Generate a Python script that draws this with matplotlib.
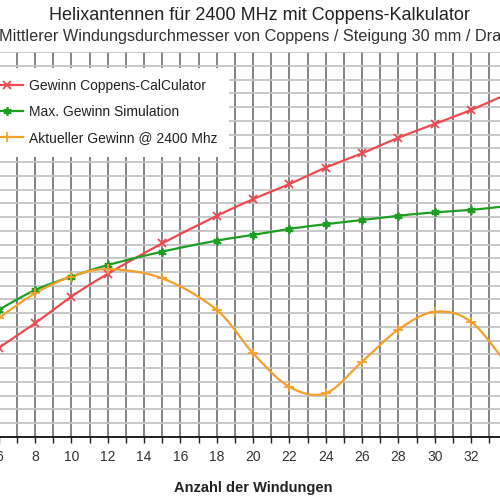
import matplotlib
matplotlib.use("Agg")
import matplotlib.pyplot as plt
import numpy as np
from matplotlib.lines import Line2D

# Anzahl der Windungen (Messpunkte)
windungen = [6, 8, 10, 12, 15, 18, 20, 22, 24, 26, 28, 30, 32, 34]
# Gewinn in dBi
gewinn_coppens = [8.23, 9.13, 10.10, 10.93, 12.04, 13.04, 13.65, 14.20,
                  14.80, 15.32, 15.89, 16.39, 16.90, 17.48]
gewinn_sim_max = [9.62, 10.34, 10.83, 11.25, 11.74, 12.14, 12.35, 12.57,
                  12.74, 12.89, 13.05, 13.17, 13.26, 13.40]
gewinn_2400 = [9.32, 10.22, 10.83, 11.10, 10.77, 9.62, 8.04, 6.82,
               6.58, 7.73, 8.90, 9.55, 9.19, 7.61]

x_ticks = list(range(6, 33, 2))


def smooth(xs, ys, n=30):
    # Bezier-Glaettung wie bei Excel-Liniendiagrammen
    p = np.column_stack([xs, ys]).astype(float)
    out = []
    for i in range(len(p) - 1):
        p0 = p[i - 1] if i > 0 else p[i]
        p1, p2 = p[i], p[i + 1]
        p3 = p[i + 2] if i + 2 < len(p) else p[i + 1]
        c1 = p1 + (p2 - p0) / 6
        c2 = p2 - (p3 - p1) / 6
        t = np.linspace(0, 1, n)[:, None]
        seg = ((1 - t) ** 3 * p1 + 3 * (1 - t) ** 2 * t * c1
               + 3 * (1 - t) * t ** 2 * c2 + t ** 3 * p2)
        out.append(seg if i == 0 else seg[1:])
    out = np.vstack(out)
    return out[:, 0], out[:, 1]


plt.rcParams['font.family'] = ['Liberation Sans', 'DejaVu Sans']

fig = plt.figure(figsize=(5, 5), dpi=100)
ax = fig.add_axes([-0.039, 0.1266, 1.090, 0.7688])

series = [
    (gewinn_coppens, "#ee4a4f", "x", 5.5, "Gewinn Coppens-CalCulator"),
    (gewinn_sim_max, "#1f9e24", (6, 2, 0), 6, "Max. Gewinn Simulation"),
    (gewinn_2400, "#f5a02c", "+", 7, "Aktueller Gewinn @ 2400 Mhz"),
]
handles = []
for ys, col, mk, ms, lab in series:
    sx, sy = smooth(windungen, ys)
    ax.plot(sx, sy, color=col, lw=1.6, zorder=3)
    ax.plot(windungen, ys, ls="none", marker=mk, ms=ms, mew=1.3,
            color=col, zorder=4)
    handles.append(Line2D([], [], color=col, lw=1.6, marker=mk, ms=ms,
                          mew=1.3, label=lab))

ax.set_xlim(5, 35)
ax.set_ylim(5, 19)
ax.set_xticks(x_ticks)
ax.set_xticks(range(5, 36), minor=True)
ax.set_yticks(np.arange(5, 19.01, 0.5))
ax.set_yticklabels([])
ax.tick_params(axis="y", length=0)
ax.tick_params(axis="x", which="both", direction="out", length=4.5,
               width=1, color="#222222", labelsize=10, pad=5,
               labelcolor="#333333")

ax.grid(axis="x", which="both", color="#7a7a7a", lw=1.3, zorder=1)
ax.grid(axis="y", color="#c4c4c4", lw=1.3, zorder=0)
for s in ["left", "right", "top"]:
    ax.spines[s].set_visible(False)
ax.spines["bottom"].set_color("#111111")
ax.spines["bottom"].set_linewidth(1.3)

ax.set_xlabel("Anzahl der Windungen", fontsize=10.5, fontweight="bold",
              labelpad=12, color="#222222")

leg = ax.legend(handles=handles, loc="upper left",
                bbox_to_anchor=(-0.041, 0.865), bbox_transform=fig.transFigure,
                fontsize=10, frameon=True, facecolor="white",
                edgecolor="none", framealpha=1, handlelength=2.3,
                handletextpad=0.4, labelspacing=0.85, borderpad=0.85,
                borderaxespad=0)
leg.set_zorder(10)
for t in leg.get_texts():
    t.set_color("#222222")

fig.text(0.518, 0.968, "Helixantennen für 2400 MHz mit Coppens-Kalkulator",
         ha="center", va="center", fontsize=13, color="#222222")
fig.text(-0.002, 0.928,
         "Mittlerer Windungsdurchmesser von Coppens / Steigung 30 mm / Drahtstärke",
         ha="left", va="center", fontsize=11.7, color="#333333")

fig.savefig("out.png", dpi=100)
